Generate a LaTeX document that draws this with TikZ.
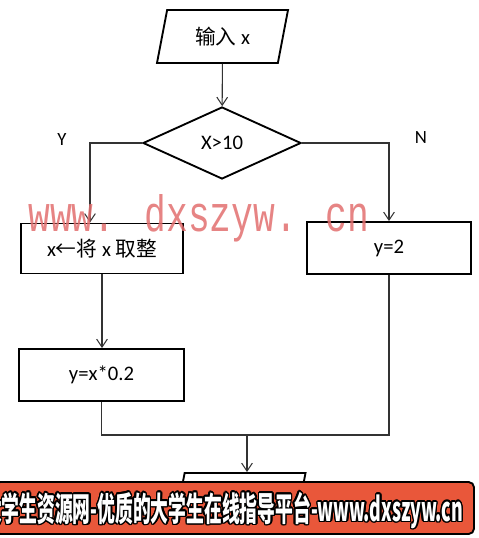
\documentclass[tikz,border=0pt]{standalone}
\usepackage{fontspec}
\setmainfont{Carlito}
\newfontfamily\cjk{Noto Sans CJK SC}
\newfontfamily\wmfont{Liberation Mono}
\usepackage{contour}
\contourlength{1.1pt}
\contournumber{16}
\usetikzlibrary{arrows.meta,positioning,shapes.geometric}
\newdimen\pxu \pxu=0.75pt
\definecolor{wmred}{RGB}{226,110,110}
\definecolor{bannerred}{RGB}{233,87,58}

\begin{document}
\begin{tikzpicture}[x=0.75pt, y=-0.75pt, >={Straight Barb[length=6pt,width=8pt]},
    font=\fontsize{15.5}{18}\selectfont,
    block/.style = {draw, line width=1.4pt, rectangle, minimum height=52\pxu, minimum width=164\pxu, align=center, inner sep=0pt},
    io/.style = {draw, line width=1.4pt, trapezium, trapezium left angle=62, trapezium right angle=118, trapezium stretches body, minimum height=53\pxu, minimum width=131\pxu, inner sep=0pt},
    decision/.style = {draw, line width=1.4pt, diamond, minimum height=72\pxu, minimum width=158\pxu, inner sep=0pt},
    flow/.style = {draw=black!80, line width=0.8pt},
    branch/.style = {font=\fontsize{14}{16}\selectfont},]
    \useasboundingbox (0,0) rectangle (478,538);
    \node [io] (input) at (222.5,36.5) {{\cjk 输入} x};
    \node [decision] (check) at (222,143) {X>10};
    \node [block, minimum width=162\pxu, minimum height=50\pxu] (round) at (102,248.5) {x{\cjk ←将} x {\cjk 取整}};
    \node [block] (settwo) at (389,248) {y=2};
    \node [block, minimum width=165\pxu] (scale) at (101.5,375) {y=x*0.2};
    \node [io] (output) at (240,499.5) {\vphantom{\cjk 输入}};
    \node [branch] (yes) at (62,140) {Y};
    \node [branch] (no) at (421,138) {N};
    \coordinate (merge) at (247,435);
    \draw[flow,->] (input) -- (check);
    \draw[flow,->] (check.west) -| ([xshift=-12\pxu]round.north);
    \draw[flow,->] (check.east) -| (settwo.north);
    \draw[flow,->] (round.south) -- (round.south |- scale.north);
    \draw[flow] (scale.south) |- (merge) -| (settwo.south);
    \draw[flow,->] (merge) -- (merge |- output.north);
    % watermark and banner
    \node [anchor=base west, inner sep=0pt, text=wmred, opacity=0.85] (mark) at (28,232) {\resizebox{256pt}{27.75pt}{\wmfont www. dxszyw. cn}};
    \node [draw=black, line width=1.4pt, rounded corners=4pt, fill=bannerred, minimum width=479\pxu, minimum height=52\pxu, inner sep=0pt] (banner) at (234.5,508) {};
    \node [anchor=east, inner sep=0pt, text=white] (slogan) at (463,511) {\contour{black}{\resizebox{359pt}{22pt}{\cjk\bfseries 大学生资源网-优质的大学生在线指导平台-www.dxszyw.cn}}};
  \end{tikzpicture}
\end{document}
